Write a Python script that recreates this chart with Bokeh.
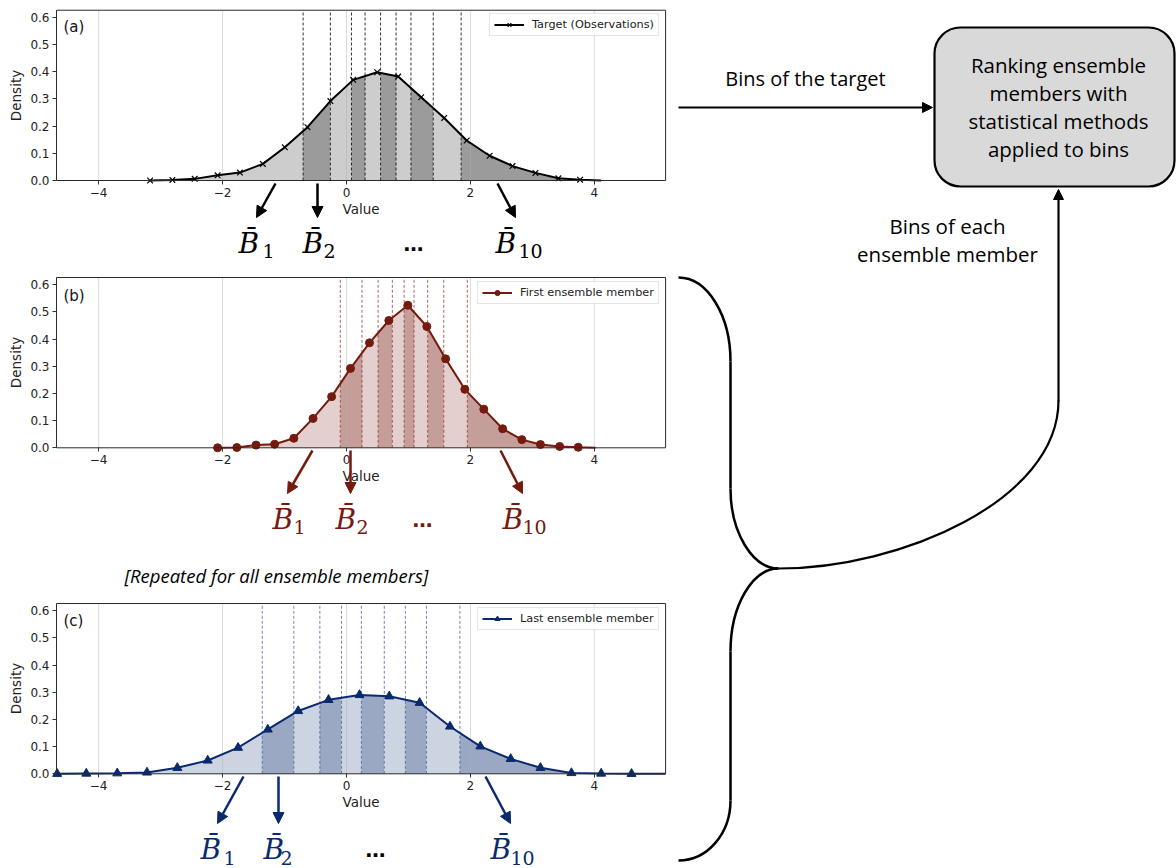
import numpy as np
from bokeh.plotting import figure
from bokeh.models import (Range1d, LinearAxis, FixedTicker, PrintfTickFormatter,
                          CustomJSTickFormatter, Legend, LegendItem, Arrow, NormalHead)
from bokeh.core.properties import value
from bokeh.embed import file_html
from bokeh.resources import INLINE

# ---------------- data ----------------
# (a) Target (Observations): marker positions, curve tail end
target_x = [-3.17, -2.81, -2.45, -2.08, -1.72, -1.35, -0.995, -0.63, -0.26, 0.108,
            0.495, 0.834, 1.205, 1.577, 1.94, 2.31, 2.68, 3.05, 3.42, 3.77]
target_y = [0.0, 0.002, 0.006, 0.019, 0.029, 0.061, 0.122, 0.196, 0.292, 0.370,
            0.398, 0.382, 0.306, 0.230, 0.147, 0.091, 0.053, 0.028, 0.008, 0.003]
target_tail = (4.11, 0.0)
target_edges = [-0.70, -0.26, 0.08, 0.30, 0.55, 0.80, 1.04, 1.40, 1.85]

# (b) First ensemble member
first_x = [-2.08, -1.77, -1.46, -1.16, -0.85, -0.54, -0.24, 0.065, 0.371, 0.683,
           0.99, 1.296, 1.60, 1.91, 2.216, 2.52, 2.83, 3.13, 3.44, 3.74]
first_y = [0.0, 0.001, 0.010, 0.013, 0.035, 0.108, 0.188, 0.292, 0.386, 0.468,
           0.524, 0.446, 0.327, 0.215, 0.142, 0.070, 0.030, 0.012, 0.005, 0.002]
first_tail = (4.02, 0.0)
first_edges = [-0.10, 0.25, 0.51, 0.74, 0.93, 1.09, 1.31, 1.57, 1.95]

# (c) Last ensemble member
last_x = [-4.67, -4.20, -3.70, -3.22, -2.73, -2.24, -1.75, -1.27, -0.78, -0.29,
          0.21, 0.69, 1.18, 1.67, 2.16, 2.65, 3.13, 3.63, 4.11, 4.60]
last_y = [0.0, 0.001, 0.002, 0.005, 0.022, 0.049, 0.096, 0.163, 0.231, 0.272,
          0.290, 0.285, 0.261, 0.174, 0.101, 0.055, 0.022, 0.003, 0.001, 0.0]
last_tail = (5.15, 0.0)
last_edges = [-1.36, -0.85, -0.43, -0.08, 0.24, 0.61, 0.95, 1.29, 1.83]

x_ticks = [-4, -2, 0, 2, 4]
y_ticks = [0.0, 0.1, 0.2, 0.3, 0.4, 0.5, 0.6]
legend_labels = ["Target (Observations)", "First ensemble member", "Last ensemble member"]
panel_tags = ["(a)", "(b)", "(c)"]
bin_labels = ["1", "2", "10"]

# ---------------- layout constants (pixels) ----------------
W, H = 1176, 868
X_PX_PER_UNIT = 61.96
X_ZERO_PX = 346.0
Y_PX_PER_UNIT = 272.0
XLIM = (-4.68, 5.15)
YMAX = 0.626
YAXIS_PX = 56

p = figure(width=W, height=H, x_range=Range1d(0, W), y_range=Range1d(H, 0),
           min_border=0, x_axis_type=None, y_axis_type=None, title=None,
           toolbar_location=None, output_backend="svg", outline_line_color=None)
p.background_fill_color = "white"

panels = [
    dict(tag=panel_tags[0], zero=180.0, mx=target_x, my=target_y, tail=target_tail,
         edges=target_edges, color="#000000", light="#cdcdcd", dark="#9b9b9b",
         dash="#000000", dash_alpha=0.9, marker="x", msize=8, label=legend_labels[0],
         leg=(489, H - 36), tag_y=26,
         ar_start=[(275, 183), (317, 183), (497, 183)],
         ar_end=[(256, 217), (317, 217), (515, 217)],
         b_left=[238, 302, 495], b_base=243, s_left=[262, 323, 518], s_base=250,
         dots=(413, 243), dots_color="#000000"),
    dict(tag=panel_tags[1], zero=447.3, mx=first_x, my=first_y, tail=first_tail,
         edges=first_edges, color="#741a0f", light="#e3d0ce", dark="#c59e9a",
         dash="#8b2a1f", dash_alpha=0.8, marker="circle", msize=8, label=legend_labels[1],
         leg=(477, H - 304), tag_y=295,
         ar_start=[(312, 450), (350, 450), (500, 450)],
         ar_end=[(287, 493), (350, 493), (522, 493)],
         b_left=[272, 335, 502], b_base=519, s_left=[293, 356, 522], s_base=526,
         dots=(422, 519), dots_color="#741a0f"),
    dict(tag=panel_tags[2], zero=773.3, mx=last_x, my=last_y, tail=last_tail,
         edges=last_edges, color="#0a2a6e", light="#cdd4e1", dark="#9ba8c4",
         dash="#3a5590", dash_alpha=0.8, marker="triangle", msize=9, label=legend_labels[2],
         leg=(477, H - 630), tag_y=620,
         ar_start=[(243, 776), (278, 776), (485, 776)],
         ar_end=[(217, 823), (278, 823), (510, 823)],
         b_left=[200, 263, 490], b_base=849, s_left=[223, 280, 510], s_base=857,
         dots=(375, 849), dots_color="#000000"),
]

p.extra_x_ranges = {"v": Range1d(-X_ZERO_PX / X_PX_PER_UNIT, (W - X_ZERO_PX) / X_PX_PER_UNIT)}
p.extra_y_ranges = {f"d{i}": Range1d((pn["zero"] - H) / Y_PX_PER_UNIT, pn["zero"] / Y_PX_PER_UNIT)
                    for i, pn in enumerate(panels)}

xfmt = CustomJSTickFormatter(code="return (tick < 0 ? '\u2212' : '') + Math.abs(tick).toString();")

for i, pn in enumerate(panels):
    rn = f"d{i}"
    kw = dict(x_range_name="v", y_range_name=rn)
    cx = np.array(pn["mx"] + [pn["tail"][0]])
    cy = np.array(pn["my"] + [pn["tail"][1]])
    bounds = [cx[0]] + pn["edges"] + [cx[-1]]
    # shaded bins
    for b in range(len(bounds) - 1):
        lo, hi = bounds[b], bounds[b + 1]
        inside = (cx > lo) & (cx < hi)
        xs = [lo] + list(cx[inside]) + [hi, hi, lo]
        ys = [float(np.interp(lo, cx, cy))] + list(cy[inside]) + [float(np.interp(hi, cx, cy)), 0.0, 0.0]
        p.patch(xs, ys, fill_color=pn["light"] if b % 2 == 0 else pn["dark"],
                line_color=None, **kw)
    # vertical grid
    p.segment(x0=x_ticks, y0=[0] * len(x_ticks), x1=x_ticks, y1=[YMAX] * len(x_ticks),
              line_color="#b0b0b0", line_alpha=0.45, line_width=1, **kw)
    # bin edges
    ne = len(pn["edges"])
    p.segment(x0=pn["edges"], y0=[0] * ne, x1=pn["edges"], y1=[YMAX] * ne,
              line_color=pn["dash"], line_alpha=pn["dash_alpha"], line_width=0.9,
              line_dash="3 2", **kw)
    # curve + markers
    lr = p.line(cx, cy, line_color=pn["color"], line_width=2, **kw)
    if pn["marker"] == "x":
        mr = p.scatter(pn["mx"], pn["my"], marker="x", size=pn["msize"],
                       line_color=pn["color"], line_width=1.2, **kw)
    else:
        mr = p.scatter(pn["mx"], pn["my"], marker=pn["marker"], size=pn["msize"],
                       fill_color=pn["color"], line_color=pn["color"], **kw)
    # frame
    p.quad(left=[XLIM[0]], right=[XLIM[1]], bottom=[0], top=[YMAX], fill_color=None,
           line_color="#2a2a2a", line_width=1, **kw)
    # axes
    xa = LinearAxis(x_range_name="v", y_range_name=rn, fixed_location=0, bounds=XLIM,
                    ticker=FixedTicker(ticks=x_ticks), formatter=xfmt, axis_label="Value",
                    axis_line_color=None, major_tick_in=0, major_tick_out=4,
                    major_tick_line_color="#333333", minor_tick_line_color=None,
                    major_label_text_font="DejaVu Sans", major_label_text_font_size="12px",
                    major_label_text_color="#222222", major_label_standoff=3,
                    axis_label_text_font="DejaVu Sans", axis_label_text_font_size="13.5px",
                    axis_label_text_font_style="normal", axis_label_text_color="#222222",
                    axis_label_standoff=1)
    p.add_layout(xa, "below")
    ya = LinearAxis(y_range_name=rn, fixed_location=YAXIS_PX, bounds=(0, YMAX),
                    ticker=FixedTicker(ticks=y_ticks), formatter=PrintfTickFormatter(format="%.1f"),
                    axis_label="Density", axis_line_color=None, major_tick_in=0, major_tick_out=4,
                    major_tick_line_color="#333333", minor_tick_line_color=None,
                    major_label_text_font="DejaVu Sans", major_label_text_font_size="12px",
                    major_label_text_color="#222222", major_label_standoff=3,
                    axis_label_text_font="DejaVu Sans", axis_label_text_font_size="13.5px",
                    axis_label_text_font_style="normal", axis_label_text_color="#222222",
                    axis_label_standoff=3)
    p.add_layout(ya, "left")
    # legend
    leg = Legend(items=[LegendItem(label=pn["label"], renderers=[lr, mr])], location=pn["leg"],
                 label_text_font="DejaVu Sans", label_text_font_size="11.3px",
                 label_text_color="#222222", border_line_color="#cccccc", border_line_width=1,
                 background_fill_alpha=0.85, padding=4, margin=0, spacing=0,
                 glyph_width=30, glyph_height=13, label_standoff=8, label_height=13)
    p.add_layout(leg, "center")
    # panel tag
    p.text(x=[63], y=[pn["tag_y"]], text=[pn["tag"]], text_font=value("DejaVu Sans"),
           text_font_size="15px", text_baseline="middle", text_color="#111111")
    # arrows to bins
    for (sx, sy), (ex, ey) in zip(pn["ar_start"], pn["ar_end"]):
        p.add_layout(Arrow(x_start=sx, y_start=sy, x_end=ex, y_end=ey, line_color=pn["color"],
                           line_width=2.5,
                           end=NormalHead(size=11, fill_color=pn["color"], line_color=pn["color"])))
    # bin labels
    p.text(x=pn["b_left"], y=[pn["b_base"]] * 3, text=["B\u0304"] * 3,
           text_font=value("DejaVu Serif"), text_font_style="italic", text_font_size="28px",
           text_baseline="alphabetic", text_color=pn["color"])
    p.text(x=pn["s_left"], y=[pn["s_base"]] * 3, text=bin_labels,
           text_font=value("DejaVu Serif"), text_font_size="19px",
           text_baseline="alphabetic", text_color=pn["color"])
    p.text(x=[pn["dots"][0]], y=[pn["dots"][1]], text=["\u2026"], text_font=value("DejaVu Sans"),
           text_font_style="bold", text_font_size="20px", text_align="center",
           text_baseline="alphabetic", text_color=pn["dots_color"])

FONT = value("Open Sans")
# italic note between panels
p.text(x=[276], y=[575], text=["[Repeated for all ensemble members]"], text_font=FONT,
       text_font_style="italic", text_font_size="18.5px", text_align="center",
       text_baseline="alphabetic", text_color="#000000")

# ---------------- right-hand diagram ----------------
# target arrow
p.add_layout(Arrow(x_start=678, y_start=107, x_end=932, y_end=107, line_color="black",
                   line_width=2, end=NormalHead(size=10, fill_color="black", line_color="black")))
p.text(x=[805], y=[78], text=["Bins of the target"], text_font=FONT, text_font_size="20px",
       text_align="center", text_baseline="alphabetic", text_color="#000000")
# rounded box
p.quad(left=[934], right=[1174], top=[27], bottom=[186], fill_color="#d9d9d9",
       line_color="black", line_width=2.2, border_radius=26)
box_lines = ["Ranking ensemble", "members with", "statistical methods", "applied to bins"]
p.text(x=[1058] * 4, y=[64.5, 92.5, 120.5, 148], text=box_lines, text_font=FONT,
       text_font_size="20.5px", text_align="center", text_baseline="alphabetic", text_color="#000000")
p.text(x=[947, 947], y=[225.5, 253], text=["Bins of each", "ensemble member"], text_font=FONT,
       text_font_size="20.5px", text_align="center", text_baseline="alphabetic", text_color="#000000")

# curly brace
p.bezier(x0=[678, 730, 778, 730], y0=[277, 488, 568, 800],
         x1=[730, 778, 730, 678], y1=[361, 568, 651, 860],
         cx0=[707, 730, 752, 730], cy0=[277, 532, 568, 833],
         cx1=[730, 752, 730, 707], cy1=[315, 568, 605, 860],
         line_color="black", line_width=2.5)
p.segment(x0=[730, 730], y0=[361, 651], x1=[730, 730], y1=[488, 800],
          line_color="black", line_width=2.5)
# path from brace tip to box
p.bezier(x0=[778], y0=[568], x1=[1058], y1=[400], cx0=[900], cy0=[568], cx1=[1058], cy1=[500],
         line_color="black", line_width=2.2)
p.add_layout(Arrow(x_start=1058, y_start=401, x_end=1058, y_end=189, line_color="black",
                   line_width=2.2, end=NormalHead(size=10, fill_color="black", line_color="black")))

open("out.html", "w").write(file_html(p, INLINE))
